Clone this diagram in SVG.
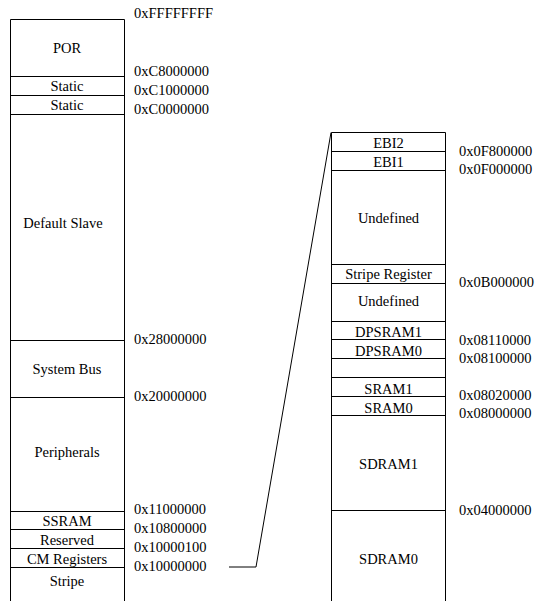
<svg xmlns="http://www.w3.org/2000/svg" width="536" height="601" viewBox="0 0 536 601">
<style>
.ln{stroke:#000;stroke-width:1;fill:none}
text{font-size:14.5px;fill:#000}
.c{text-anchor:middle}
</style>
<rect width="536" height="601" fill="#fff"/>
<g font-family="'Liberation Serif', 'Times New Roman', 'DejaVu Serif', serif">
<g id="left-map">
  <path class="ln" d="M10.5,601 V19.5 H124.5 V601"/>
  <g id="por"><text class="c" x="67" y="53">POR</text></g>
  <g id="static1"><line class="ln" x1="10" y1="76.5" x2="125" y2="76.5"/><text class="c" x="67" y="90.5">Static</text></g>
  <g id="static2"><line class="ln" x1="10" y1="95.5" x2="125" y2="95.5"/><text class="c" x="67" y="109.5">Static</text></g>
  <g id="default-slave"><line class="ln" x1="10" y1="114.5" x2="125" y2="114.5"/><text class="c" x="63" y="228">Default Slave</text></g>
  <g id="system-bus"><line class="ln" x1="10" y1="340.5" x2="125" y2="340.5"/><text class="c" x="67" y="374">System Bus</text></g>
  <g id="peripherals"><line class="ln" x1="10" y1="397.5" x2="125" y2="397.5"/><text class="c" x="67" y="457">Peripherals</text></g>
  <g id="ssram"><line class="ln" x1="10" y1="511.5" x2="125" y2="511.5"/><text class="c" x="67" y="526">SSRAM</text></g>
  <g id="reserved"><line class="ln" x1="10" y1="529.5" x2="125" y2="529.5"/><text class="c" x="67" y="545">Reserved</text></g>
  <g id="cm-registers"><line class="ln" x1="10" y1="548.5" x2="125" y2="548.5"/><text class="c" x="67" y="564">CM Registers</text></g>
  <g id="stripe"><line class="ln" x1="10" y1="567.5" x2="125" y2="567.5"/><text class="c" x="67" y="586">Stripe</text></g>
</g>
<g id="left-addresses">
  <text x="134" y="18">0xFFFFFFFF</text>
  <text x="134" y="76">0xC8000000</text>
  <text x="134" y="94.5">0xC1000000</text>
  <text x="134" y="113.5">0xC0000000</text>
  <text x="134" y="344">0x28000000</text>
  <text x="134" y="400.5">0x20000000</text>
  <text x="134" y="514">0x11000000</text>
  <text x="134" y="532.5">0x10800000</text>
  <text x="134" y="551.5">0x10000100</text>
  <text x="134" y="570.5">0x10000000</text>
</g>
<g id="right-map">
  <path class="ln" d="M331.5,601 V132.5 H445.5 V601"/>
  <g id="ebi2"><text class="c" x="388.5" y="147.5">EBI2</text></g>
  <g id="ebi1"><line class="ln" x1="331" y1="151.5" x2="446" y2="151.5"/><text class="c" x="388.5" y="166.5">EBI1</text></g>
  <g id="undefined1"><line class="ln" x1="331" y1="170.5" x2="446" y2="170.5"/><text class="c" x="388.5" y="223">Undefined</text></g>
  <g id="stripe-register"><line class="ln" x1="331" y1="264.5" x2="446" y2="264.5"/><text class="c" x="388.5" y="279">Stripe Register</text></g>
  <g id="undefined2"><line class="ln" x1="331" y1="283.5" x2="446" y2="283.5"/><text class="c" x="388.5" y="306">Undefined</text></g>
  <g id="dpsram1"><line class="ln" x1="331" y1="321.5" x2="446" y2="321.5"/><text class="c" x="388.5" y="336.5">DPSRAM1</text></g>
  <g id="dpsram0"><line class="ln" x1="331" y1="339.5" x2="446" y2="339.5"/><text class="c" x="388.5" y="355.5">DPSRAM0</text></g>
  <g id="gap"><line class="ln" x1="331" y1="358.5" x2="446" y2="358.5"/></g>
  <g id="sram1"><line class="ln" x1="331" y1="377.5" x2="446" y2="377.5"/><text class="c" x="388.5" y="394">SRAM1</text></g>
  <g id="sram0"><line class="ln" x1="331" y1="396.5" x2="446" y2="396.5"/><text class="c" x="388.5" y="413">SRAM0</text></g>
  <g id="sdram1"><line class="ln" x1="331" y1="415.5" x2="446" y2="415.5"/><text class="c" x="388.5" y="469">SDRAM1</text></g>
  <g id="sdram0"><line class="ln" x1="331" y1="510.5" x2="446" y2="510.5"/><text class="c" x="388.5" y="564">SDRAM0</text></g>
</g>
<g id="right-addresses">
  <text x="459" y="155.5">0x0F800000</text>
  <text x="459" y="174">0x0F000000</text>
  <text x="459" y="286.5">0x0B000000</text>
  <text x="459" y="345">0x08110000</text>
  <text x="459" y="363">0x08100000</text>
  <text x="459" y="400">0x08020000</text>
  <text x="459" y="418">0x08000000</text>
  <text x="459" y="515">0x04000000</text>
</g>
</g>
<g id="connectors">
  <polyline class="ln" points="229,567 256,567 331,132.5"/>
</g>
</svg>
